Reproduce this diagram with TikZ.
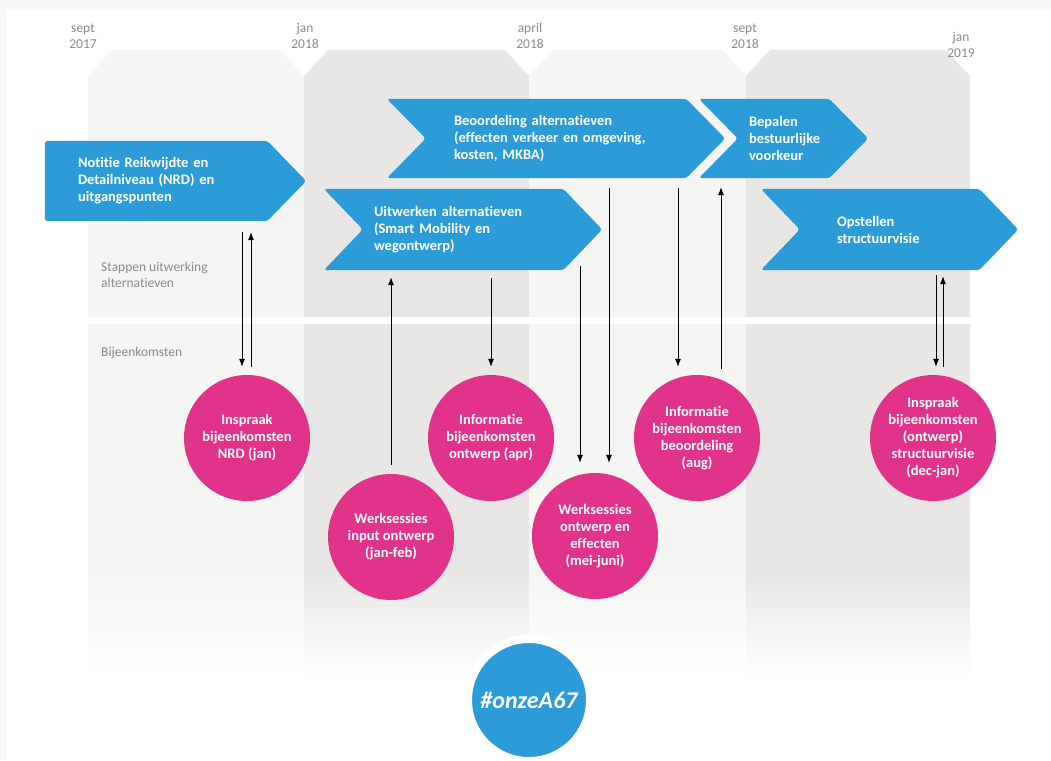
\documentclass[tikz,border=0pt]{standalone}
\usepackage{fontspec}
\setmainfont{Carlito}[Ligatures=NoCommon]
\usetikzlibrary{arrows.meta,backgrounds}
\definecolor{stepblue}{HTML}{2B9CD8}
\definecolor{meetpink}{HTML}{E2338A}
\definecolor{collight}{HTML}{F5F5F3}
\definecolor{coldark}{HTML}{E8E7E5}
\definecolor{labelgray}{HTML}{8A8A8A}
\definecolor{framegray}{HTML}{F7F7F7}

\begin{document}
\begin{tikzpicture}[x=1pt,y=-1pt]
  \tikzstyle{stepbox}=[rectangle, minimum height=80, inner sep=0pt, text=white, align=left,
font=\bfseries\fontsize{14.5}{17}\selectfont]
  \tikzstyle{meeting}=[circle, fill=meetpink, minimum size=126, inner sep=0pt, text=white,
align=center, font=\bfseries\fontsize{14.5}{17}\selectfont]
  \tikzstyle{date}=[text=labelgray, align=center, font=\fontsize{13.5}{16}\selectfont]
  \tikzstyle{rowlabel}=[text=labelgray, align=left, anchor=west, inner sep=0pt,
font=\fontsize{13.5}{16}\selectfont]
  \tikzstyle{link}=[-{Latex[length=8pt,width=6pt]}, line width=0.8pt]
  \useasboundingbox (0,0) rectangle (1051,760);
  % time axis
  \node[date] (D_1) at (83,36)  {sept\\2017};
  \node[date] (D_2) at (305,36) {jan\\2018};
  \node[date] (D_3) at (530,36) {april\\2018};
  \node[date] (D_4) at (745,36) {sept\\2018};
  \node[date] (D_5) at (961,45) {jan\\2019};
  \node[rowlabel] (R_1) at (101,275) {Stappen uitwerking\\alternatieven};
  \node[rowlabel] (R_2) at (101,353) {Bijeenkomsten};
  % steps
  \node[stepbox, minimum width=261, text width=195] (C_1) at (175.5,181)
    {Notitie Reikwijdte en\\Detailniveau (NRD) en\\uitgangspunten};
  \node[stepbox, minimum width=338, minimum height=79, text width=204] (C_2) at (556,138.5)
    {Beoordeling alternatieven\\(effecten verkeer en omgeving,\\kosten, MKBA)};
  \node[stepbox, minimum width=169, minimum height=79, text width=69] (C_3) at (783.5,138.5)
    {Bepalen\\bestuurlijke\\voorkeur};
  \node[stepbox, minimum width=278, minimum height=81, text width=178] (C_4) at (463,229.5)
    {Uitwerken alternatieven\\(Smart Mobility en\\wegontwerp)};
  \node[stepbox, minimum width=257, minimum height=81, text width=105] (C_5) at (889.5,229.5)
    {Opstellen\\structuurvisie};
  % meetings
  \node[meeting] (B_1) at (247,438) {Inspraak\\bijeenkomsten\\NRD (jan)};
  \node[meeting] (B_2) at (391,537) {Werksessies\\input ontwerp\\(jan-feb)};
  \node[meeting] (B_3) at (491,438) {Informatie\\bijeenkomsten\\ontwerp (apr)};
  \node[meeting] (B_4) at (595,536) {Werksessies\\ontwerp en\\effecten\\(mei-juni)};
  \node[meeting] (B_5) at (697,438) {Informatie\\bijeenkomsten\\beoordeling\\(aug)};
  \node[meeting] (B_6) at (933,438) {Inspraak\\bijeenkomsten\\(ontwerp)\\structuurvisie\\(dec-jan)};
  \node[circle, fill=stepblue, draw=white, line width=8pt, minimum size=122, text=white,
    font=\bfseries\itshape\fontsize{24}{28}\selectfont] (L) at (529,700) {\#onzeA67};
  % background
  \begin{scope}[on background layer]
    \fill[framegray] (0,0) rectangle (1051,760);
    \fill[white] (7,10) rectangle (1051,760);
    \foreach \xl/\xr/\c in {88/304/collight, 304/529/coldark, 529/746/collight, 746/970/coldark} {
      \fill[\c] (\xl,76) -- (\xl+24,50) -- (\xr-24,50) -- (\xr,76) -- (\xr,575) -- (\xl,575) -- cycle;
      \shade[top color=\c, bottom color=white] (\xl,574.5) rectangle (\xr,677);
    }
    \fill[white] (88,317) rectangle (970,324);
    \fill[stepblue, rounded corners=3pt] (C_1.north west) -- ([xshift=-39pt]C_1.north east) -- (C_1.east)
      -- ([xshift=-39pt]C_1.south east) -- (C_1.south west) -- cycle;
    \foreach \n in {C_2,C_3,C_4,C_5}
      \fill[stepblue, rounded corners=3pt] (\n.north west) -- ([xshift=-39pt]\n.north east) -- (\n.east)
        -- ([xshift=-39pt]\n.south east) -- (\n.south west) -- ([xshift=39pt]\n.west) -- cycle;
  \end{scope}
  % links
  \draw[link, shorten <=11pt, shorten >=8pt] ([xshift=-5pt]B_1.north |- C_1.south) -- ([xshift=-5pt]B_1.north);
  \draw[link, shorten <=8pt, shorten >=11pt] ([xshift=4pt]B_1.north) -- ([xshift=4pt]B_1.north |- C_1.south);
  \draw[link, shorten <=9pt, shorten >=7pt] (B_2.north) -- (B_2.north |- C_4.south);
  \draw[link, shorten <=8pt, shorten >=8pt] (B_3.north |- C_4.south) -- (B_3.north);
  \draw[link, shorten <=-4pt, shorten >=10pt] ([xshift=-15pt]B_4.north |- C_4.south) -- ([xshift=-15pt]B_4.north);
  \draw[link, shorten <=10pt, shorten >=10pt] ([xshift=14pt]B_4.north |- C_2.south) -- ([xshift=14pt]B_4.north);
  \draw[link, shorten <=10pt, shorten >=8pt] ([xshift=-19pt]B_5.north |- C_2.south) -- ([xshift=-19pt]B_5.north);
  \draw[link, shorten <=6pt, shorten >=9pt] ([xshift=24pt]B_5.north) -- ([xshift=24pt]B_5.north |- C_3.south);
  \draw[link, shorten <=5pt, shorten >=8pt] ([xshift=3pt]B_6.north |- C_5.south) -- ([xshift=3pt]B_6.north);
  \draw[link, shorten <=8pt, shorten >=6pt] ([xshift=10pt]B_6.north) -- ([xshift=10pt]B_6.north |- C_5.south);
\end{tikzpicture}
\end{document}
